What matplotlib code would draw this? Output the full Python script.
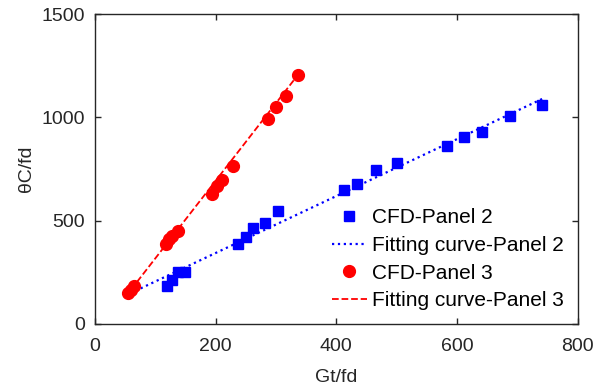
import matplotlib
matplotlib.use("Agg")
import matplotlib.pyplot as plt
import numpy as np

plt.rcParams['font.family'] = ['Liberation Sans', 'DejaVu Sans']

# CFD data, Panel 2
p2_x = [119, 127, 138, 149, 237, 250, 262, 281, 304, 413, 434, 466, 501, 583, 611, 642, 688, 741]
p2_y = [186, 214, 251, 251, 387, 420, 465, 491, 546, 649, 678, 747, 778, 859, 904, 931, 1005, 1062]
# Fitting curve Panel 2 (end points)
fit2_x = [58, 741]
fit2_y = [148, 1089]

# CFD data, Panel 3
p3_x = [55, 59, 64, 117, 123, 128, 137, 194, 202, 211, 228, 286, 300, 316, 337]
p3_y = [152, 165, 183, 388, 409, 428, 452, 630, 670, 697, 765, 994, 1049, 1102, 1207]
# Fitting curve Panel 3 (end points)
fit3_x = [50, 337]
fit3_y = [130, 1208]

xticks = [0, 200, 400, 600, 800]
yticks = [0, 500, 1000, 1500]

fig = plt.figure(figsize=(6.04, 3.89), dpi=100)
ax = fig.add_axes([0.1573, 0.1671, 0.9565 - 0.1573, 0.964 - 0.1671])

ax.plot(p2_x, p2_y, 's', color='#0000ff', markersize=7, label='CFD-Panel 2', zorder=3)
ax.plot(fit2_x, fit2_y, ':', color='#0000ff', linewidth=1.6, label='Fitting curve-Panel 2', zorder=2)
ax.plot(p3_x, p3_y, 'o', color='#ff0000', markersize=8.5, label='CFD-Panel 3', zorder=3)
ax.plot(fit3_x, fit3_y, '--', color='#ff0000', linewidth=1.3, label='Fitting curve-Panel 3', zorder=2)

ax.set_xlim(0, 800)
ax.set_ylim(0, 1500)
ax.set_xticks(xticks)
ax.set_yticks(yticks)
ax.tick_params(direction='in', top=True, right=True, labelsize=14, colors='#262626', length=4, width=1.0)
ax.tick_params(axis='x', pad=10)
ax.tick_params(axis='y', pad=7)
for s in ax.spines.values():
    s.set_color('#262626')
    s.set_linewidth(1.0)

ax.set_xlabel('Gt/fd', fontsize=14, color='#262626', labelpad=10)
ax.set_ylabel('θC/fd', fontsize=14, color='#262626', labelpad=5)

leg = ax.legend(loc='lower right', bbox_to_anchor=(1.0, 0.0), frameon=False, fontsize=15,
                handlelength=1.7, handletextpad=0.25, labelspacing=0.42, borderaxespad=0.45,
                borderpad=0.2)

fig.savefig('out.png', dpi=100)
